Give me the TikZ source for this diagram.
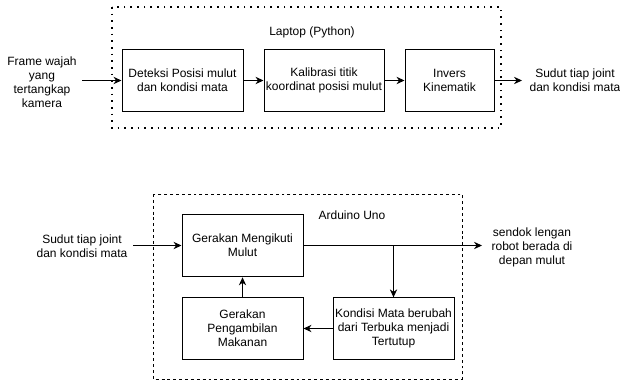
\documentclass[tikz,border=0pt]{standalone}
\usepackage{fontspec}
\setmainfont{Liberation Sans}
\usetikzlibrary{positioning, arrows.meta}
\tikzstyle{process} = [rectangle, minimum width=90.75pt, minimum height=46pt, text centered, align=center, draw=black, line width=0.75pt, inner sep=1pt]
\tikzstyle{txt} = [align=center, inner sep=0pt]
\tikzstyle{arrow} = [line width=0.75pt,-{Stealth[length=6pt,width=5.5pt]}]
\tikzstyle{dotframe} = [line width=1.3pt, dash pattern=on 1.3pt off 3.7pt]
\tikzstyle{dashframe} = [line width=0.75pt, dash pattern=on 2.2pt off 2.2pt]

\begin{document}
\begin{tikzpicture}[x=0.75pt, y=-0.75pt, node distance=15pt, font=\fontsize{9}{10.4}\selectfont]
   \useasboundingbox (0,0) rectangle (620,381);
   % laptop side
   \draw [dotframe] (112,7) rectangle (501,128);
   \node (laptop) [txt] at (312,32) {Laptop (Python)};
   \node (deteksi) [process] at (182.5,80.5) {Deteksi Posisi mulut\\dan kondisi mata};
   \node (kalibrasi) [process, minimum width=90pt, right=of deteksi] {Kalibrasi titik\\koordinat posisi mulut};
   \node (invers) [process, minimum width=66.75pt, right=of kalibrasi] {Invers\\Kinematik};
   \node (frame) [txt] at (42,82) {Frame wajah\\yang\\tertangkap\\kamera};
   \node (sudut) [txt] at (575,80.5) {Sudut tiap joint\\dan kondisi mata};
   \coordinate (in1) at (82,80.5);
   \coordinate (out1) at (522,80.5);
   \draw [arrow] (in1) -- (deteksi);
   \draw [arrow] (deteksi) -- (kalibrasi);
   \draw [arrow] (kalibrasi) -- (invers);
   \draw [arrow] (invers) -- (out1);
   % arduino side
   \draw [dashframe] (153,194) rectangle (462,379);
   \node (arduino) [txt] at (352,215) {Arduino Uno};
   \node (gerak) [process, minimum height=47pt] at (242.5,245.5) {Gerakan Mengikuti\\Mulut};
   \node (ambil) [process, below=15pt of gerak] {Gerakan\\Pengambilan\\Makanan};
   \node (kondisi) [process, right=21.75pt of ambil] {Kondisi Mata berubah\\dari Terbuka menjadi\\Tertutup};
   \node (sudut2) [txt] at (82,246) {Sudut tiap joint\\dan kondisi mata};
   \node (sendok) [txt] at (532,247.5) {sendok lengan\\robot berada di\\depan mulut};
   \coordinate (in2) at (133,245.5);
   \coordinate (out2) at (482,245.5);
   \coordinate (split) at (gerak.east -| kondisi.north);
   \draw [arrow] (in2) -- (gerak);
   \draw [arrow] (gerak) -- (out2);
   \draw [arrow] (split) -- (kondisi);
   \draw [arrow] (kondisi) -- (ambil);
   \draw [arrow] (ambil) -- (gerak);
\end{tikzpicture}
\end{document}
